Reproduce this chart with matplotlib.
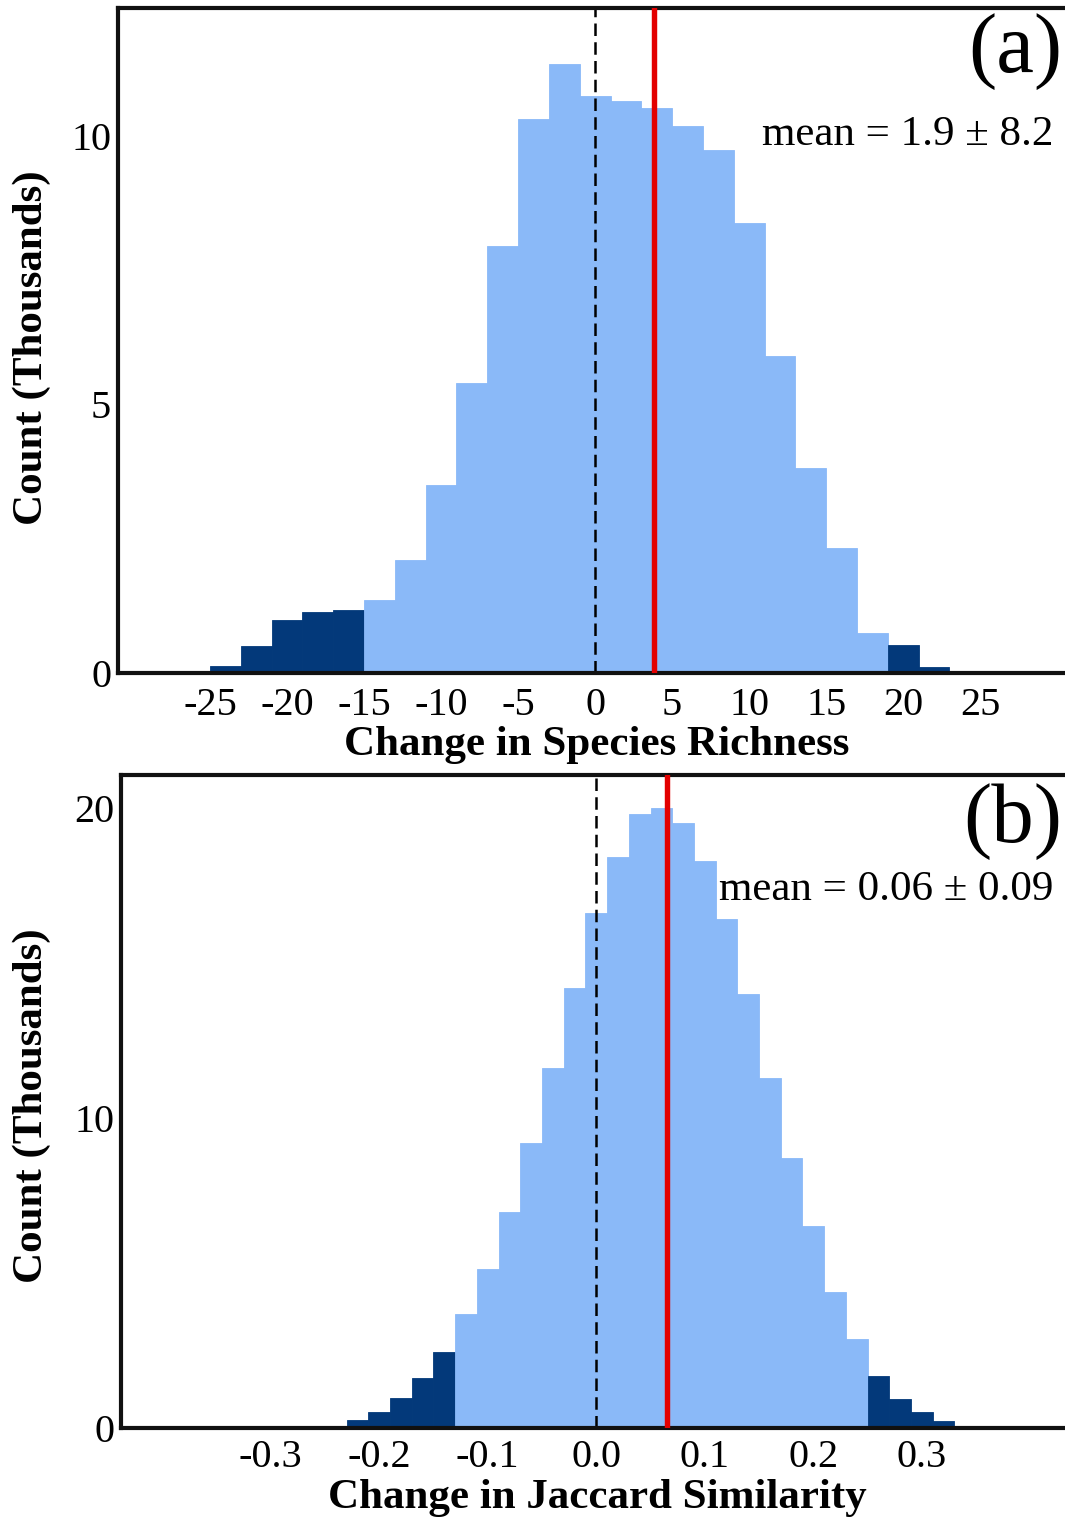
import matplotlib
matplotlib.use("Agg")
import matplotlib.pyplot as plt
import numpy as np

plt.rcParams["font.family"] = ["Liberation Serif", "DejaVu Serif"]
plt.rcParams["axes.unicode_minus"] = False

# (a) change in species richness, bins of width 2
rich_edges = [-25, -23, -21, -19, -17, -15, -13, -11, -9, -7, -5, -3, -1,
              1, 3, 5, 7, 9, 11, 13, 15, 17, 19, 21, 23]
rich_counts = [0.13, 0.50, 0.99, 1.14, 1.18, 1.36, 2.11, 3.50, 5.40, 7.94,
               10.32, 11.33, 10.75, 10.64, 10.52, 10.19, 9.74, 8.37, 5.91,
               3.81, 2.32, 0.75, 0.52, 0.11]
rich_tails = (-15, 19)
rich_mean = 3.8
rich_ticks = [-25, -20, -15, -10, -5, 0, 5, 10, 15, 20, 25]
rich_yticks = [0, 5, 10]

# (b) change in Jaccard similarity, bins of width 0.02
jac_edges = [-0.25, -0.23, -0.21, -0.19, -0.17, -0.15, -0.13, -0.11, -0.09,
             -0.07, -0.05, -0.03, -0.01, 0.01, 0.03, 0.05, 0.07, 0.09, 0.11,
             0.13, 0.15, 0.17, 0.19, 0.21, 0.23, 0.25, 0.27, 0.29, 0.31,
             0.33, 0.35]
jac_counts = [0.08, 0.26, 0.52, 0.97, 1.61, 2.45, 3.68, 5.13, 6.97, 9.2,
              11.6, 14.2, 16.6, 18.4, 19.8, 20.0, 19.5, 18.3, 16.4, 14.0,
              11.3, 8.7, 6.5, 4.4, 2.87, 1.68, 0.94, 0.52, 0.23, 0.08]
jac_tails = (-0.13, 0.25)
jac_mean = 0.065
jac_ticks = [-0.3, -0.2, -0.1, 0.0, 0.1, 0.2, 0.3]
jac_yticks = [0, 10, 20]

LIGHT = "#8ab9f8"
DARK = "#03397a"
RED = "#e30000"

W, H = 1065, 1519
fig = plt.figure(figsize=(W / 100, H / 100), dpi=100)


def px_axes(left, top, bottom, right=W):
    return fig.add_axes([left / W, 1 - bottom / H, (right - left) / W, (bottom - top) / H])


def draw_hist(ax, edges, counts, tails, mean):
    edges = np.asarray(edges)
    lefts = edges[:-1]
    widths = np.diff(edges)
    cols = [DARK if (l < tails[0] - 1e-9 or l >= tails[1] - 1e-9) else LIGHT for l in lefts]
    ax.bar(lefts, counts, width=widths, align="edge", color=cols,
           edgecolor=cols, linewidth=0.6, zorder=1)
    ax.axvline(0, color="black", lw=1.8, ls=(0, (5, 2.5)), zorder=2)
    ax.axvline(mean, color=RED, lw=3.9, zorder=3)


def style(ax):
    for s in ["left", "top", "bottom"]:
        ax.spines[s].set_linewidth(3)
        ax.spines[s].set_color("#111111")
    ax.spines["right"].set_visible(False)
    ax.tick_params(axis="both", length=0, labelsize=29)
    ax.tick_params(axis="y", pad=5)


# panel (a)
ax1 = px_axes(118, 8, 673)
draw_hist(ax1, rich_edges, rich_counts, rich_tails, rich_mean)
ax1.set_xlim(-30.97, 30.5)
ax1.set_ylim(0, 12.38)
ax1.set_xticks(rich_ticks)
ax1.set_yticks(rich_yticks)
style(ax1)
ax1.tick_params(axis="x", pad=10)

# panel (b)
ax2 = px_axes(121, 775, 1428)
draw_hist(ax2, jac_edges, jac_counts, jac_tails, jac_mean)
ax2.set_xlim(-0.438, 0.432)
ax2.set_ylim(0, 21.06)
ax2.set_xticks(jac_ticks)
ax2.set_xticklabels([f"{t:.1f}" for t in jac_ticks])
ax2.set_yticks(jac_yticks)
style(ax2)
ax2.tick_params(axis="x", pad=8)

# labels
fig.text(597 / W, 1 - 755 / H, "Change in Species Richness", ha="center",
         va="baseline", fontsize=31, fontweight="bold")
fig.text(597 / W, 1 - 1508 / H, "Change in Jaccard Similarity", ha="center",
         va="baseline", fontsize=31, fontweight="bold")
fig.text(32 / W, 1 - 348 / H, "Count (Thousands)", ha="center", va="center",
         rotation=90, fontsize=31, fontweight="bold")
fig.text(32 / W, 1 - 1106 / H, "Count (Thousands)", ha="center", va="center",
         rotation=90, fontsize=31, fontweight="bold")

fig.text(1062 / W, 1 - 52 / H, "(a)", ha="right", va="center", fontsize=61)
fig.text(1062 / W, 1 - 822 / H, "(b)", ha="right", va="center", fontsize=61)
fig.text(1053 / W, 1 - 145 / H, "mean = 1.9 \u00b1 8.2", ha="right",
         va="baseline", fontsize=31)
fig.text(1053 / W, 1 - 900 / H, "mean = 0.06 \u00b1 0.09", ha="right",
         va="baseline", fontsize=31)

fig.savefig("out.png", dpi=100)
